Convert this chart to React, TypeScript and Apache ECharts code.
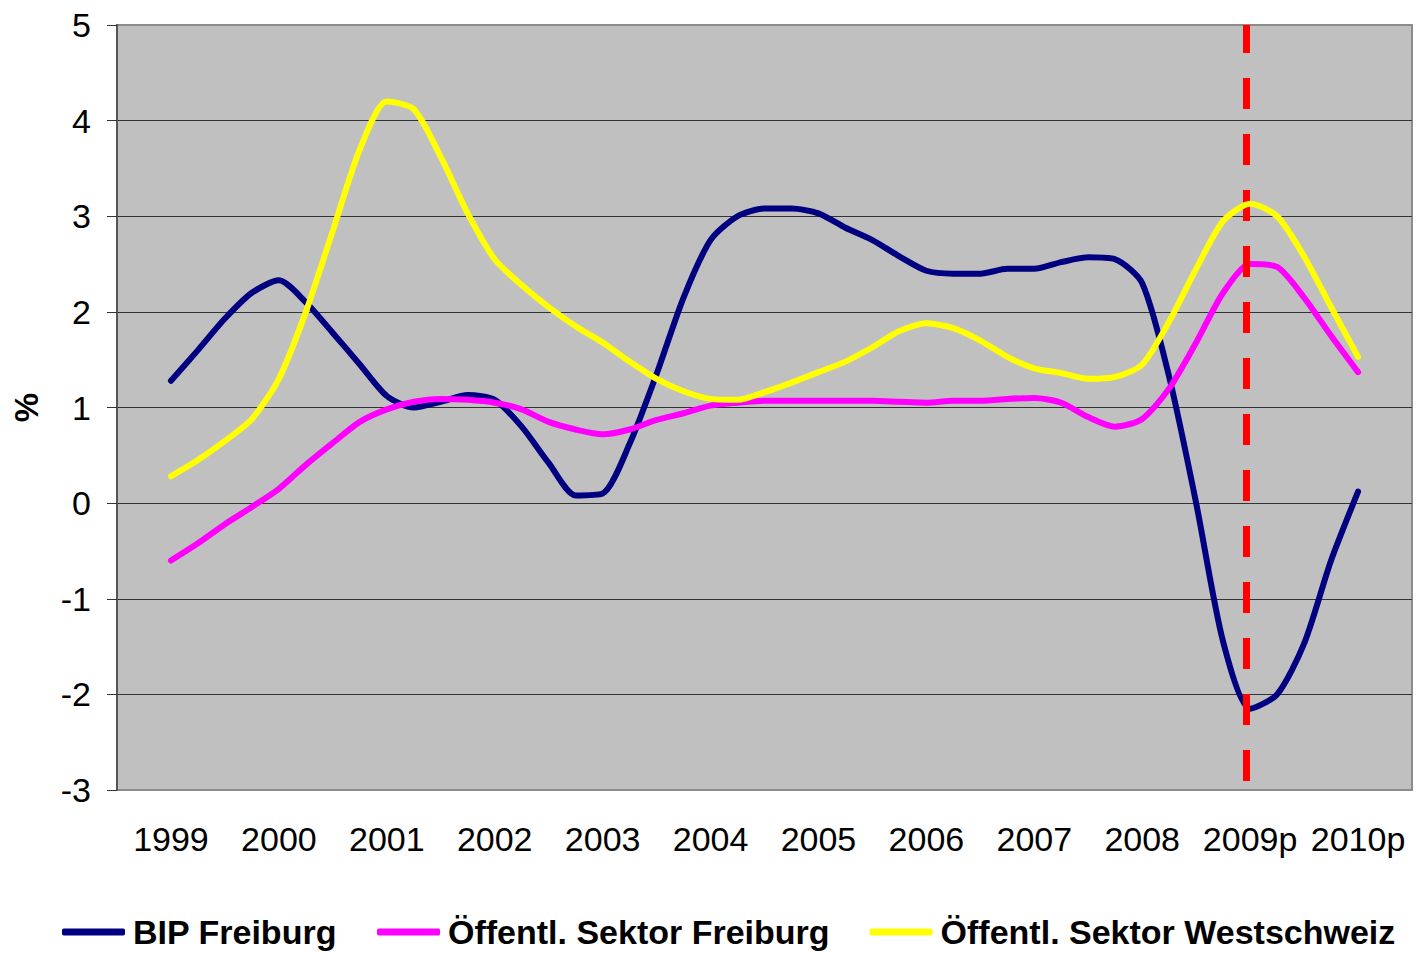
import React, { useEffect, useRef } from "react";
import * as echarts from "echarts";

const years = ["1999", "2000", "2001", "2002", "2003", "2004", "2005", "2006", "2007", "2008", "2009p", "2010p"];
const seriesNames = ["BIP Freiburg", "Öffentl. Sektor Freiburg", "Öffentl. Sektor Westschweiz"];
const seriesColors = ["#000080", "#FF00FF", "#FFFF00"];

// quarterly values, 1999 ... 2010p (45 points)
const bipFreiburg = [
  1.28, 1.6, 1.93, 2.2, 2.33, 2.1, 1.78, 1.45, 1.12, 1.0, 1.06, 1.13,
  1.08, 0.8, 0.42, 0.08, 0.1, 0.62, 1.35, 2.15, 2.75, 3.0, 3.08, 3.08,
  3.03, 2.88, 2.75, 2.58, 2.43, 2.4, 2.4, 2.45, 2.45, 2.52, 2.57, 2.55,
  2.3, 1.32, 0.0, -1.45, -2.15, -2.0, -1.47, -0.6, 0.12,
];
const sektorFreiburg = [
  -0.6, -0.42, -0.22, -0.04, 0.15, 0.4, 0.63, 0.85, 0.98, 1.06, 1.09, 1.08,
  1.05, 0.98, 0.85, 0.77, 0.72, 0.77, 0.87, 0.94, 1.02, 1.05, 1.07, 1.07,
  1.07, 1.07, 1.07, 1.06, 1.05, 1.07, 1.07, 1.09, 1.1, 1.05, 0.9, 0.8,
  0.88, 1.2, 1.68, 2.2, 2.5, 2.47, 2.15, 1.75, 1.37,
];
const sektorWestschweiz = [
  0.28, 0.45, 0.65, 0.88, 1.3, 2.0, 2.85, 3.7, 4.2, 4.12, 3.62, 3.03,
  2.55, 2.28, 2.05, 1.85, 1.68, 1.48, 1.3, 1.17, 1.09, 1.08, 1.16, 1.26,
  1.37, 1.48, 1.63, 1.8, 1.88, 1.83, 1.7, 1.53, 1.41, 1.36, 1.3, 1.32,
  1.45, 1.9, 2.45, 2.95, 3.13, 3.0, 2.58, 2.05, 1.53,
];
const yTicks = { min: -3, max: 5, interval: 1 };
const forecastStart = 9.96; // position of red dashed divider (year index)

const FONT = "Arial, 'Liberation Sans', sans-serif";

const toPoints = (vals: number[]) => vals.map((v, i) => [i / 4, v]);

export default function App() {
  const ref = useRef<HTMLDivElement>(null);
  useEffect(() => {
    if (!ref.current) return;
    const chart = echarts.init(ref.current, null, { renderer: "svg" });
    const allData = [bipFreiburg, sektorFreiburg, sektorWestschweiz];
    const lineSeries = allData.map((d, i) => ({
      name: seriesNames[i],
      type: "line",
      xAxisIndex: 1,
      yAxisIndex: 0,
      data: toPoints(d),
      showSymbol: false,
      smooth: 0.25,
      color: seriesColors[i],
      lineStyle: { color: seriesColors[i], width: 6, cap: "round", join: "round" },
      z: 3 + i,
    }));
    chart.setOption({
      animation: false,
      backgroundColor: "#ffffff",
      grid: {
        left: 117,
        top: 25,
        right: 8,
        bottom: 164,
        show: true,
        backgroundColor: "#C0C0C0",
        borderColor: "#8c8c8c",
        borderWidth: 2,
      },
      legend: {
        data: seriesNames,
        left: 62,
        top: 915,
        width: 1356,
        padding: 0,
        itemWidth: 63,
        itemHeight: 7,
        itemGap: 40,
        icon: "roundRect",
        textStyle: { fontFamily: FONT, fontSize: 34, fontWeight: "bold", color: "#000", padding: [0, 0, 0, 3] },
      },
      xAxis: [
        {
          type: "category",
          data: years,
          boundaryGap: true,
          axisLine: { show: false },
          axisTick: { show: false },
          splitLine: { show: false },
          axisLabel: { fontFamily: FONT, fontSize: 34, color: "#000", margin: 32, interval: 0 },
        },
        {
          type: "value",
          min: -0.5,
          max: 11.5,
          show: false,
          splitLine: { show: false },
        },
      ],
      yAxis: {
        type: "value",
        min: yTicks.min,
        max: yTicks.max,
        interval: yTicks.interval,
        name: "%",
        nameLocation: "middle",
        nameRotate: 90,
        nameGap: 74,
        nameTextStyle: { fontFamily: FONT, fontSize: 33, fontWeight: "bold", color: "#000" },
        axisLine: { show: true, onZero: false, lineStyle: { color: "#555", width: 2 } },
        axisTick: { show: true, length: 10, lineStyle: { color: "#333", width: 1 } },
        axisLabel: { fontFamily: FONT, fontSize: 34, color: "#000", margin: 26 },
        splitLine: {
          show: true,
          lineStyle: {
            color: ["#8c8c8c", "#333", "#333", "#333", "#333", "#333", "#333", "#333", "#8c8c8c"],
            width: 1,
          },
        },
      },
      series: [
        ...lineSeries,
        {
          name: "divider",
          type: "line",
          xAxisIndex: 1,
          yAxisIndex: 0,
          data: [],
          z: 10,
          markLine: {
            silent: true,
            symbol: "none",
            label: { show: false },
            lineStyle: { color: "#FF0000", width: 7, type: [31, 25], dashOffset: 3 },
            data: [[{ coord: [forecastStart, yTicks.max] }, { coord: [forecastStart, yTicks.min] }]],
          },
        },
      ],
    });
    return () => chart.dispose();
  }, []);
  return (
    <div
      ref={ref}
      style={{ position: "absolute", left: 0, top: 0, width: 1420, height: 954, background: "#fff" }}
    />
  );
}
